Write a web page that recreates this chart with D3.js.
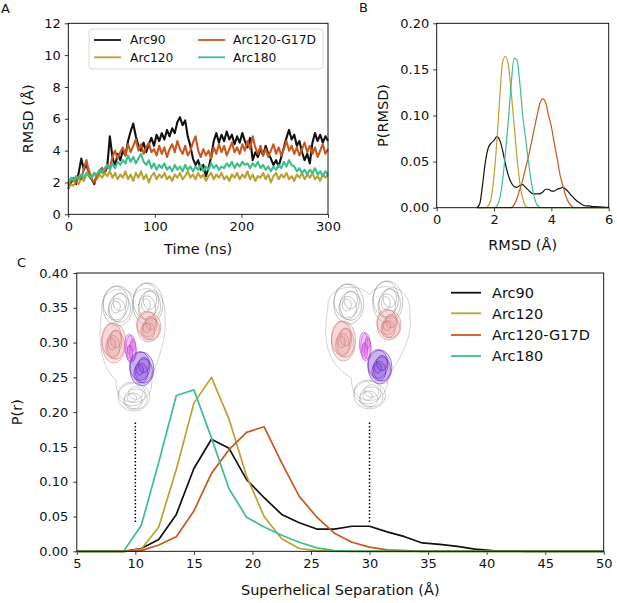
<!DOCTYPE html>
<html>
<head>
<meta charset="utf-8">
<script src="https://cdn.jsdelivr.net/npm/d3@7"></script>
<style>
  body { margin: 0; background: #fff; }
  svg { display: block; font-family: "DejaVu Sans", sans-serif; }
</style>
</head>
<body>
<div id="figure"></div>
<script>
// - - - - - - - - - -
// data
const seriesNames = ['Arc90', 'Arc120', 'Arc120-G17D', 'Arc180'];
const seriesColors = ['#111111', '#bba032', '#c9581f', '#3dbf8c'];

// A: RMSD trace, one sample every 3 ns from 0 to 300 ns
const traceStep = 3;
const traceArc90 = [1.6,2.0,2.2,1.9,2.6,3.5,2.8,3.2,2.4,2.2,
  1.9,2.5,2.7,2.9,2.6,3.0,4.9,3.6,3.0,3.8,
  3.4,4.0,3.7,4.6,5.2,5.7,4.9,4.3,4.0,4.5,
  3.9,4.4,4.8,4.3,5.0,4.6,5.1,4.7,5.3,4.9,
  5.4,5.1,5.8,6.1,5.6,5.9,4.9,4.3,3.5,3.1,
  3.4,2.8,3.1,2.4,2.9,3.6,4.6,5.1,4.5,5.0,
  4.6,5.2,4.7,5.0,4.4,4.9,4.5,5.1,4.6,4.2,
  4.8,3.4,3.9,3.6,4.1,3.7,4.3,3.8,3.5,3.1,
  3.4,3.0,3.6,4.2,4.8,5.3,4.7,5.0,4.3,4.6,
  3.9,3.4,3.8,3.2,4.5,5.1,4.6,5.0,4.5,4.9,
  4.6];
const traceArc120 = [1.6,1.9,1.8,2.1,1.9,2.3,2.1,2.5,2.8,2.3,
  2.6,2.2,2.5,2.3,2.6,2.4,2.7,2.3,2.6,2.2,
  2.5,2.3,2.7,2.2,2.5,2.1,2.6,2.3,2.7,2.2,
  2.5,2.0,2.4,2.6,2.2,2.5,2.3,2.6,2.2,2.4,
  2.1,2.5,2.3,2.6,2.2,2.4,2.7,2.3,2.5,2.2,
  2.6,2.3,2.5,2.1,2.4,2.6,2.2,2.5,2.3,2.6,
  2.2,2.4,2.1,2.5,2.3,2.6,2.2,2.5,2.3,2.7,
  2.2,2.5,2.1,2.4,2.3,2.6,2.2,2.5,2.0,2.4,
  2.6,2.2,2.5,2.3,2.6,2.2,2.4,2.1,2.5,2.3,
  2.6,2.2,2.5,2.3,2.6,2.2,2.4,2.1,2.5,2.3,
  2.5];
const traceArc120G17D = [1.8,2.1,2.3,2.0,2.4,2.2,2.9,3.4,2.6,2.2,
  2.0,2.4,2.6,2.9,2.7,3.1,2.9,3.6,4.0,3.5,
  3.9,4.2,3.7,4.4,3.9,4.3,4.7,4.0,4.4,3.8,
  4.2,4.5,3.9,4.1,3.7,4.3,3.8,4.2,3.6,4.1,
  4.4,3.9,4.6,4.1,3.8,4.3,3.7,4.0,4.5,4.9,
  4.0,3.6,4.1,3.7,4.0,3.5,4.2,3.8,4.4,3.9,
  4.3,3.7,4.1,4.5,3.9,4.2,3.8,4.4,4.0,4.6,
  4.1,4.9,4.2,3.8,4.3,3.7,4.1,3.6,4.0,4.4,
  3.8,4.2,3.7,4.1,4.6,4.0,4.3,3.8,4.2,3.7,
  4.1,4.5,3.9,4.3,3.8,4.2,3.6,4.0,4.4,3.8,
  4.1];
const traceArc180 = [1.9,2.3,2.1,2.4,2.2,2.5,2.3,2.6,2.4,2.3,
  2.6,2.5,2.8,2.6,2.9,3.1,2.8,3.2,2.9,3.3,
  3.1,3.4,3.2,3.7,3.3,3.6,3.2,3.5,3.8,3.3,
  3.1,3.4,2.9,3.2,2.8,3.1,2.9,3.2,2.8,3.0,
  2.7,3.1,2.8,3.0,2.7,3.1,2.8,3.0,2.7,3.0,
  2.8,3.1,2.7,3.0,2.8,3.2,2.9,3.1,2.8,3.0,
  2.9,3.2,3.0,3.3,2.9,3.2,3.0,3.3,3.1,3.2,
  2.9,3.2,3.0,3.3,2.9,3.1,2.8,3.0,2.7,3.0,
  2.8,3.1,2.9,3.3,3.0,3.4,3.1,3.0,2.7,2.9,
  2.6,2.8,2.5,2.8,2.6,2.9,2.5,2.7,2.4,2.7,
  2.5];

// B: RMSD distribution on bins 1.4 .. 6.0 (step 0.1)
const rmsdBins = [1.4,1.5,1.6,1.7,1.8,1.9,2.0,2.1,2.2,2.3,2.4,2.5,2.6,2.7,2.8,2.9,3.0,
  3.1,3.2,3.3,3.4,3.5,3.6,3.7,3.8,3.9,4.0,4.1,4.2,4.3,4.4,4.5,4.6,4.7,4.8,4.9,5.0,
  5.1,5.2,5.3,5.4,5.5,5.6,5.7,5.8,5.9,6.0];
const distArc90 = [0,0.004,0.025,0.05,0.065,0.07,0.073,
  0.077,0.073,0.062,0.047,0.035,0.027,0.023,0.022,0.024,0.025,
  0.022,0.019,0.016,0.015,0.015,0.015,0.017,0.02,0.02,0.018,
  0.018,0.02,0.021,0.022,0.02,0.017,0.013,0.01,0.007,0.005,
  0.003,0.002,0.002,0.0015,0.0012,0.001,0.0008,0.0006,0.0004,0.0003];
const distArc120 = [0,0,0,0,0.002,0.01,0.035,0.072,0.12,0.158,0.164,0.155,0.125,0.09,
  0.055,0.027,0.01,0.002,0,0,0,0,0,0,0,0,0,0,0,0,0,0,0,0,0,0,0,0,0,0,0,0,0,0,0,0,0];
const distArc120G17D = [0,0,0,0,0,0,0,0,0,0,0,0,0,0.003,0.01,0.02,0.03,0.043,0.055,
  0.07,0.085,0.1,0.113,0.118,0.114,0.1,0.088,0.07,0.054,0.036,0.024,0.013,0.006,0.002,
  0,0,0,0,0,0,0,0,0,0,0,0,0];
const distArc180 = [0,0,0,0,0,0,0,0.002,0.01,0.03,0.06,0.095,0.135,0.162,0.16,0.135,
  0.10,0.075,0.05,0.028,0.012,0.003,0.0005,0,0,0,0,0,0,0,0,0,0,0,0,0,0,0,0,0,0,0,0,0,0,0,0];

// C: superhelical separation distribution
const sepBins = [4.5,6,7.5,9,10.5,12,13.5,15,16.5,18,19.5,21,22.5,24,25.5,27,28.5,30,
  31.5,33,34.5,36,37.5,39,40.5,42,43.5,45,46.5,48,49.5,51];
const sepArc90 = [0,0,0,0,0.004,0.017,0.053,0.119,0.161,0.148,0.103,0.077,0.053,0.041,
  0.032,0.032,0.036,0.036,0.028,0.021,0.012,0.010,0.007,0.003,0.001,0.0005,0,0,0,0,0,0];
const sepArc120 = [0,0,0,0,0.003,0.035,0.118,0.213,0.250,0.190,0.108,0.050,0.018,0.004,
  0.001,0,0,0,0,0,0,0,0,0,0,0,0,0,0,0,0,0];
const sepArc120G17D = [0,0,0,0,0.001,0.009,0.021,0.058,0.112,0.146,0.171,0.179,0.127,
  0.079,0.049,0.026,0.013,0.006,0.002,0.001,0,0,0,0,0,0,0,0,0,0,0,0];
const sepArc180 = [0,0,0,0,0.037,0.128,0.224,0.232,0.163,0.090,0.049,0.035,0.023,0.013,
  0.005,0.001,0,0,0,0,0,0,0,0,0,0,0,0,0,0,0,0];
const markerSeparations = [10, 30];

// ticks
const ticksAx = [0, 100, 200, 300], ticksAy = [0, 2, 4, 6, 8, 10, 12];
const ticksBx = [0, 2, 4, 6], ticksBy = [0, 0.05, 0.10, 0.15, 0.20];
const ticksCx = [5, 10, 15, 20, 25, 30, 35, 40, 45, 50];
const ticksCy = [0, 0.05, 0.10, 0.15, 0.20, 0.25, 0.30, 0.35, 0.40];

// - - - - - - - - - -
// layout
const W = 617, H = 603;
const svg = d3.select('#figure').append('svg').attr('width', W).attr('height', H);

const boxA = { left: 68.3, right: 328, top: 23.3, bottom: 214.3 };
const boxB = { left: 436.7, right: 608.7, top: 23.3, bottom: 207.7 };
const boxC = { left: 76.8, right: 603.7, top: 273, bottom: 551.3 };

const tickFont = 13, labelFont = 14.5;

function frame(box, x, y, xt, yt, fmtX, fmtY, gap) {
  const g = svg.append('g');
  const ax = g.append('g').attr('transform', 'translate(0,' + box.bottom + ')')
    .call(d3.axisBottom(x).tickValues(xt).tickFormat(fmtX).tickSize(3.5).tickPadding(3.5).tickSizeOuter(0));
  const ay = g.append('g').attr('transform', 'translate(' + box.left + ',0)')
    .call(d3.axisLeft(y).tickValues(yt).tickFormat(fmtY).tickSize(3.5).tickPadding(gap).tickSizeOuter(0));
  [ax, ay].forEach(a => {
    a.select('.domain').remove();
    a.selectAll('line').attr('stroke', '#000').attr('stroke-width', 0.8);
    a.selectAll('text').attr('font-size', tickFont).attr('fill', '#111')
      .attr('font-family', '"DejaVu Sans", sans-serif');
  });
  return g;
}

function spines(box) {
  svg.append('rect')
    .attr('x', box.left).attr('y', box.top)
    .attr('width', box.right - box.left).attr('height', box.bottom - box.top)
    .attr('fill', 'none').attr('stroke', '#000').attr('stroke-width', 0.9);
}

function label(text, x, y, rot, size) {
  svg.append('text').text(text)
    .attr('transform', 'translate(' + x + ',' + y + ')' + (rot ? ' rotate(-90)' : ''))
    .attr('text-anchor', 'middle').attr('font-size', size || labelFont).attr('fill', '#111');
}

// - - - - - - - - - -
// panel A
const xA = d3.scaleLinear().domain([0, 300]).range([boxA.left, boxA.right]);
const yA = d3.scaleLinear().domain([0, 12]).range([boxA.bottom, boxA.top]);
frame(boxA, xA, yA, ticksAx, ticksAy, d3.format('d'), d3.format('d'), 4);

const tracesA = [traceArc90, traceArc120, traceArc120G17D, traceArc180];
const lineA = d3.line().x((d, i) => xA(i * traceStep)).y(d => yA(d));
tracesA.forEach((vals, k) => {
  svg.append('path').datum(vals).attr('d', lineA)
    .attr('fill', 'none').attr('stroke', seriesColors[k])
    .attr('stroke-width', 2.1).attr('stroke-linejoin', 'round');
});
spines(boxA);

// legend A (two columns, framed)
const legA = svg.append('g');
legA.append('rect').attr('x', 89).attr('y', 29).attr('width', 234).attr('height', 40)
  .attr('rx', 3).attr('fill', '#fff').attr('fill-opacity', 0.8)
  .attr('stroke', '#d0d0d0').attr('stroke-width', 0.8);
seriesNames.forEach((name, k) => {
  const col = Math.floor(k / 2), row = k % 2;
  const lx = col === 0 ? 94 : 198, tx = col === 0 ? 130 : 233;
  const ly = row === 0 ? 40 : 57.3;
  legA.append('line').attr('x1', lx).attr('x2', lx + 27).attr('y1', ly).attr('y2', ly)
    .attr('stroke', seriesColors[k]).attr('stroke-width', 1.8);
  legA.append('text').text(name).attr('x', tx).attr('y', ly + 4.4)
    .attr('font-size', 12.3).attr('fill', '#111');
});

label('Time (ns)', (boxA.left + boxA.right) / 2, 254);
label('RMSD (Å)', 33, (boxA.top + boxA.bottom) / 2, true);
svg.append('text').text('A').attr('x', 1).attr('y', 13).attr('font-size', 13).attr('fill', '#111');

// - - - - - - - - - -
// panel B
const xB = d3.scaleLinear().domain([0, 6]).range([boxB.left, boxB.right]);
const yB = d3.scaleLinear().domain([0, 0.20]).range([boxB.bottom, boxB.top]);
frame(boxB, xB, yB, ticksBx, ticksBy, d3.format('d'), d3.format('.2f'), 4);

const distsB = [distArc90, distArc120, distArc120G17D, distArc180];
const lineB = d3.line().x((d, i) => xB(rmsdBins[i])).y(d => yB(d)).curve(d3.curveMonotoneX);
distsB.forEach((vals, k) => {
  svg.append('path').datum(vals).attr('d', lineB)
    .attr('fill', 'none').attr('stroke', seriesColors[k]).attr('stroke-width', 1.2);
});
spines(boxB);

label('RMSD (Å)', (boxB.left + boxB.right) / 2, 250);
label('P(RMSD)', 388, (boxB.top + boxB.bottom) / 2, true);
svg.append('text').text('B').attr('x', 359).attr('y', 12).attr('font-size', 13).attr('fill', '#111');

// - - - - - - - - - -
// panel C
const xC = d3.scaleLinear().domain([5, 50]).range([boxC.left, boxC.right]);
const yC = d3.scaleLinear().domain([0, 0.40]).range([boxC.bottom, boxC.top]);
frame(boxC, xC, yC, ticksCx, ticksCy, d3.format('d'), d3.format('.2f'), 5);

svg.append('clipPath').attr('id', 'clipC').append('rect')
  .attr('x', boxC.left).attr('y', boxC.top - 2)
  .attr('width', boxC.right - boxC.left).attr('height', boxC.bottom - boxC.top + 4);

// little protein sketches over the two marker positions
function molecule(cx, top, spread) {
  const g = svg.append('g').attr('transform', 'translate(' + cx + ',' + top + ')');
  const rings = [[0, 0, 1], [-2, -3, 0.85], [2, 2, 0.72], [-1, 4, 0.58], [2, -4, 0.45], [-2, 1, 0.3]];
  const blob = (x, y, rx, ry, fill, fo, stroke, so) => {
    rings.forEach(r => {
      g.append('ellipse')
        .attr('cx', x * spread + r[0]).attr('cy', y + r[1])
        .attr('rx', rx * r[2]).attr('ry', ry * r[2])
        .attr('fill', fill).attr('fill-opacity', fo)
        .attr('stroke', stroke).attr('stroke-width', 0.6).attr('stroke-opacity', so);
    });
  };
  // faint envelope
  g.append('path')
    .attr('d', 'M' + (-32 * spread) + ',25 C' + (-34 * spread) + ',0 ' + (-5 * spread) + ',0 0,12 ' +
      'C' + (5 * spread) + ',-2 ' + (33 * spread) + ',0 ' + (31 * spread) + ',30 ' +
      'C' + (34 * spread) + ',60 ' + (20 * spread) + ',80 18,95 C20,125 -20,125 -18,95 ' +
      'C' + (-34 * spread) + ',80 ' + (-36 * spread) + ',55 ' + (-32 * spread) + ',25 Z')
    .attr('fill', 'none').attr('stroke', '#c8c8c8').attr('stroke-width', 0.8);
  blob(-16, 21, 15, 20, 'none', 0, '#808080', 0.75);
  blob(14, 19, 15, 21, 'none', 0, '#808080', 0.75);
  blob(-20, 58, 12, 20, '#eaa7a7', 0.25, '#c06a6a', 0.8);
  blob(15, 42, 12, 15, '#eaa7a7', 0.25, '#c06a6a', 0.8);
  blob(-3, 64, 5, 14, '#d55ce2', 0.2, '#c040d0', 0.9);
  blob(8, 84, 12, 17, '#8040d8', 0.22, '#5e1cc0', 0.9);
  blob(0, 112, 16, 14, 'none', 0, '#8c8c8c', 0.7);
}
molecule(xC(markerSeparations[0]) - 1.5, 285, 1.0);
molecule(xC(markerSeparations[1]), 283, 1.3);

// dotted marker lines
markerSeparations.forEach(s => {
  svg.append('line').attr('x1', xC(s)).attr('x2', xC(s))
    .attr('y1', yC(0.185)).attr('y2', yC(0.04))
    .attr('stroke', '#000').attr('stroke-width', 1.5).attr('stroke-dasharray', '1.5,2');
});

const distsC = [sepArc90, sepArc120, sepArc120G17D, sepArc180];
const lineC = d3.line().x((d, i) => xC(sepBins[i])).y(d => yC(d));
distsC.forEach((vals, k) => {
  svg.append('path').datum(vals).attr('d', lineC).attr('clip-path', 'url(#clipC)')
    .attr('fill', 'none').attr('stroke', seriesColors[k])
    .attr('stroke-width', 1.7).attr('stroke-linejoin', 'round');
});
spines(boxC);

// legend C (no frame)
const legRows = [292.7, 313.3, 335, 356];
seriesNames.forEach((name, k) => {
  svg.append('line').attr('x1', 451).attr('x2', 481).attr('y1', legRows[k]).attr('y2', legRows[k])
    .attr('stroke', seriesColors[k]).attr('stroke-width', 1.8);
  svg.append('text').text(name).attr('x', 492).attr('y', legRows[k] + 5.2)
    .attr('font-size', 14.5).attr('fill', '#111');
});

label('Superhelical Separation (Å)', (boxC.left + boxC.right) / 2, 595);
label('P(r)', 22, (boxC.top + boxC.bottom) / 2, true);
svg.append('text').text('C').attr('x', 17).attr('y', 267).attr('font-size', 13).attr('fill', '#111');
</script>
</body>
</html>
